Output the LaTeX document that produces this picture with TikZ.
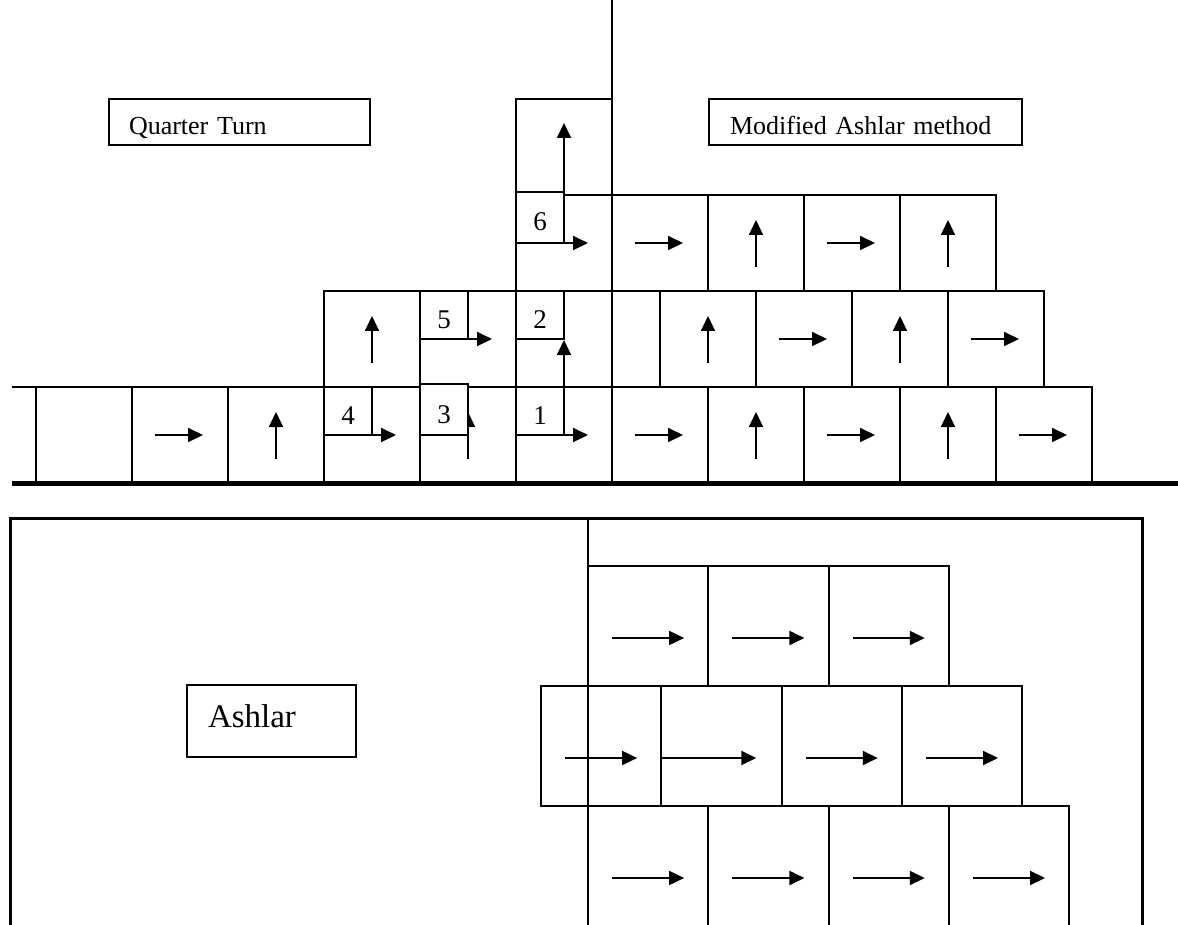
\documentclass[tikz,border=0pt]{standalone}
\usepackage{fontspec}
\setmainfont{Liberation Serif}
\usetikzlibrary{arrows.meta,positioning}

\begin{document}
\begin{tikzpicture}[x=1pt,y=-1pt,>={Triangle[length=15pt,width=14pt]},line width=1.8pt,node distance=0pt,
    brick/.style={draw,rectangle,minimum width=96pt,minimum height=96pt,inner sep=0pt,outer sep=0pt},
    half brick/.style={brick,minimum width=48pt},
    east brick/.style={brick,path picture={\draw[->] ([xshift=-25pt]path picture bounding box.center) -- ++(48,0);}},
    north brick/.style={brick,path picture={\draw[->] ([yshift=-24pt]path picture bounding box.center) -- ++(0,-47);}},
    ashlar/.style={brick,minimum width=120.3pt,minimum height=120pt},
    ashlar east/.style={ashlar,path picture={\draw[->] ([xshift=-36pt,yshift=-12pt]path picture bounding box.center) -- ++(72,0);}},
    tag/.style={draw,fill=white,minimum width=48pt,minimum height=48pt,inner sep=0pt,outer sep=0pt,anchor=south west,
      text height=27pt,text depth=0pt,font=\fontsize{27pt}{30pt}\selectfont},
    name box/.style={draw,anchor=north west,inner ysep=0pt,outer sep=0pt,minimum height=46pt,text height=26pt,text depth=0pt,
      align=left,font=\fontsize{26pt}{30pt}\selectfont}]
  \useasboundingbox (0,0) rectangle (1178,925);
  \clip (0,0) rectangle (1178,925);

  \node[name box,text width=221pt,inner xsep=20pt] (quarter) at (109,99) {Quarter Turn};
  \node[name box,text width=271pt,inner xsep=21pt] (modified) at (709,99) {Modified Ashlar method};

  \node[brick] (r1c1) at (84,435) {};
  \node[east brick] (r1c2) [right=of r1c1] {};
  \node[north brick] (r1c3) [right=of r1c2] {};
  \node[brick] (r1c4) [right=of r1c3] {};
  \node[north brick] (r1c5) [right=of r1c4] {};
  \node[brick] (r1c6) [right=of r1c5] {};
  \node[east brick] (r1c7) [right=of r1c6] {};
  \node[north brick] (r1c8) [right=of r1c7] {};
  \node[east brick] (r1c9) [right=of r1c8] {};
  \node[north brick] (r1c10) [right=of r1c9] {};
  \node[east brick] (r1c11) [right=of r1c10] {};

  \node[north brick] (r2c1) at (372,339) {};
  \node[brick] (r2c2) [right=of r2c1] {};
  \node[brick] (r2c3) [right=of r2c2] {};
  \node[half brick] (r2c4) [right=of r2c3] {};
  \node[north brick] (r2c5) [right=of r2c4] {};
  \node[east brick] (r2c6) [right=of r2c5] {};
  \node[north brick] (r2c7) [right=of r2c6] {};
  \node[east brick] (r2c8) [right=of r2c7] {};

  \node[brick] (r3c1) at (564,243) {};
  \node[east brick] (r3c2) [right=of r3c1] {};
  \node[north brick] (r3c3) [right=of r3c2] {};
  \node[east brick] (r3c4) [right=of r3c3] {};
  \node[north brick] (r3c5) [right=of r3c4] {};
  \node[brick] (r4c1) [above=of r3c1] {};

  \node[tag] (t1) at (r1c6.west) {1};
  \node[tag] (t2) at (r2c3.west) {2};
  \node[tag,minimum height=51pt] (t3) at (r1c5.west) {3};
  \node[tag] (t4) at (r1c4.west) {4};
  \node[tag] (t5) at (r2c2.west) {5};
  \node[tag,minimum height=51pt] (t6) at (r3c1.west) {6};

  \draw[->] (t1.south west) -- ++(72,0);
  \draw[->] (t1.south east) -- ++(0,-95);
  \draw[->] (t4.south west) -- ++(72,0);
  \draw[->] (t5.south west) -- ++(72,0);
  \draw[->] (t6.south west) -- ++(72,0);
  \draw[->] (t6.south east) -- ++(0,-120);

  \coordinate (pole) at (612,0);
  \coordinate (edge) at (12,387);
  \coordinate (g0) at (12,483);
  \coordinate (g1) at (1178,483);
  \draw (pole) -- (r1c6.south east);
  \draw (edge) -- (r1c1.north west);
  \draw[line width=5pt] (g0) -- (g1);

  \coordinate (f0) at (10,925);
  \coordinate (f1) at (10,518);
  \coordinate (f2) at (1142,518);
  \coordinate (f3) at (1142,925);
  \coordinate (s0) at (588,518);
  \coordinate (s1) at (588,925);
  \draw[line width=3pt] (f0) -- (f1) -- (f2) -- (f3);
  \draw (s0) -- (s1);

  \node[name box,text width=127pt,inner xsep=21pt,minimum height=72pt,text height=24pt,text depth=12pt,
    font=\fontsize{33pt}{36pt}\selectfont] (ashlar label) at (187,685) {Ashlar};

  \node[ashlar east] (a1) at (648.15,626) {};
  \node[ashlar east] (a2) [right=of a1] {};
  \node[ashlar east] (a3) [right=of a2] {};

  \node[ashlar east] (b1) at (601.15,746) {};
  \node[ashlar] (b2) [right=of b1] {};
  \node[ashlar east] (b3) [right=of b2] {};
  \node[ashlar east] (b4) [right=of b3] {};
  \draw[->] ([yshift=-12pt]b2.west) -- ++(95,0);

  \node[ashlar east] (c1) at (648.15,866) {};
  \node[ashlar east] (c2) [right=of c1] {};
  \node[ashlar east] (c3) [right=of c2] {};
  \node[ashlar east] (c4) [right=of c3] {};
\end{tikzpicture}
\end{document}
